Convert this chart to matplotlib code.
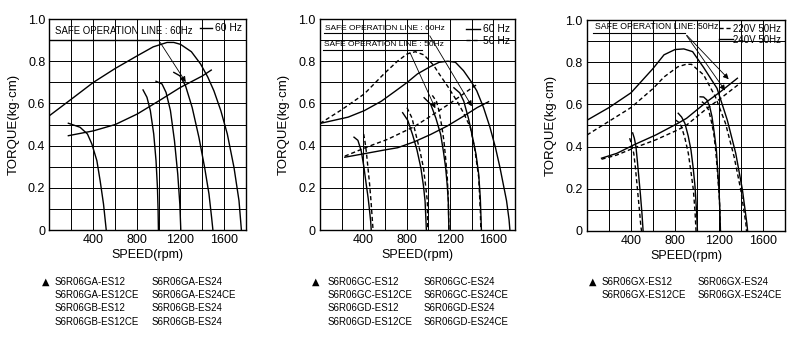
import numpy as np
import matplotlib
matplotlib.use('Agg')
import matplotlib.pyplot as plt

plt.rcParams['font.family'] = ['Liberation Sans', 'DejaVu Sans']

# ---- GA / GB series, 60 Hz ----
a_big_x = [0, 200, 403, 600, 805, 950, 1077, 1139, 1200, 1300, 1384, 1450, 1506, 1570, 1629, 1690, 1736, 1758]
a_big_y = [0.542, 0.62, 0.70, 0.765, 0.826, 0.868, 0.889, 0.889, 0.88, 0.845, 0.787, 0.725, 0.66, 0.565, 0.455, 0.297, 0.139, 0]
a_c1_x = [173, 280, 348, 388, 434, 464, 495, 520]
a_c1_y = [0.506, 0.487, 0.455, 0.408, 0.329, 0.234, 0.123, 0]
a_c2_x = [857, 893, 924, 955, 976, 989, 995, 998]
a_c2_y = [0.664, 0.629, 0.566, 0.455, 0.329, 0.202, 0.092, 0]
a_c3_x = [976, 1031, 1068, 1108, 1145, 1175, 1194, 1203]
a_c3_y = [0.705, 0.692, 0.652, 0.566, 0.423, 0.265, 0.123, 0]
a_c4_x = [1139, 1194, 1246, 1307, 1369, 1421, 1461, 1485, 1497]
a_c4_y = [0.747, 0.731, 0.684, 0.581, 0.439, 0.297, 0.171, 0.06, 0]
a_safe_x = [173, 403, 603, 805, 1005, 1200, 1400, 1482]
a_safe_y = [0.447, 0.47, 0.50, 0.55, 0.613, 0.676, 0.73, 0.758]

# ---- GC / GD series, 60 Hz and 50 Hz ----
c_big60_x = [0, 260, 410, 565, 700, 806, 900, 1020, 1100, 1180, 1250, 1325, 1400, 1447, 1510, 1569, 1620, 1661, 1722, 1745, 1753]
c_big60_y = [0.505, 0.535, 0.566, 0.61, 0.66, 0.70, 0.74, 0.775, 0.795, 0.80, 0.795, 0.755, 0.70, 0.66, 0.58, 0.487, 0.39, 0.297, 0.139, 0.05, 0]
c_big50_x = [0, 200, 409, 600, 715, 806, 880, 960, 1050, 1100, 1180, 1266, 1330, 1389, 1430, 1465, 1480, 1485]
c_big50_y = [0.505, 0.57, 0.645, 0.745, 0.80, 0.835, 0.845, 0.83, 0.78, 0.74, 0.68, 0.61, 0.55, 0.485, 0.38, 0.25, 0.09, 0]
c_s1_60_x = [314, 350, 381, 405, 427, 445, 458, 468, 473]
c_s1_60_y = [0.44, 0.425, 0.374, 0.30, 0.216, 0.15, 0.09, 0.04, 0]
c_s1_50_x = [403, 415, 427, 442, 458, 472, 483, 490]
c_s1_50_y = [0.455, 0.42, 0.374, 0.30, 0.217, 0.13, 0.05, 0]
c_s2_60_x = [763, 810, 854, 895, 931, 955, 970, 982]
c_s2_60_y = [0.556, 0.52, 0.453, 0.38, 0.295, 0.21, 0.137, 0]
c_s2_50_x = [803, 850, 885, 925, 955, 975, 991, 995]
c_s2_50_y = [0.58, 0.53, 0.453, 0.37, 0.295, 0.21, 0.137, 0]
c_s3_60_x = [961, 1022, 1070, 1114, 1140, 1160, 1175, 1184, 1190]
c_s3_60_y = [0.627, 0.596, 0.53, 0.453, 0.37, 0.295, 0.21, 0.137, 0]
c_s3_50_x = [1037, 1075, 1099, 1125, 1144, 1160, 1175, 1185, 1190]
c_s3_50_y = [0.638, 0.61, 0.564, 0.49, 0.422, 0.34, 0.248, 0.14, 0]
c_s4_60_x = [1236, 1290, 1327, 1370, 1403, 1440, 1465, 1480, 1490]
c_s4_60_y = [0.674, 0.65, 0.611, 0.53, 0.453, 0.36, 0.264, 0.15, 0]
c_safe60_x = [229, 412, 625, 717, 870, 1022, 1175, 1327, 1450, 1556]
c_safe60_y = [0.345, 0.362, 0.382, 0.39, 0.418, 0.453, 0.493, 0.54, 0.58, 0.608]
c_safe50_x = [229, 442, 625, 870, 1022, 1200, 1420, 1450]
c_safe50_y = [0.35, 0.395, 0.43, 0.49, 0.54, 0.60, 0.68, 0.69]

# ---- GX series, 50 Hz at 220 V / 240 V ----
x_big240_x = [0, 200, 400, 600, 700, 800, 880, 960, 1060, 1182, 1275, 1352, 1413, 1453, 1460]
x_big240_y = [0.525, 0.585, 0.655, 0.77, 0.835, 0.86, 0.863, 0.85, 0.775, 0.676, 0.526, 0.368, 0.194, 0.036, 0]
x_big220_x = [0, 200, 400, 600, 700, 825, 900, 950, 1060, 1167, 1259, 1337, 1398, 1444, 1450]
x_big220_y = [0.455, 0.52, 0.585, 0.675, 0.73, 0.778, 0.79, 0.79, 0.74, 0.636, 0.51, 0.352, 0.194, 0.036, 0]
x_a240_x = [415, 430, 445, 458, 472, 486, 500, 510]
x_a240_y = [0.465, 0.44, 0.40, 0.33, 0.25, 0.17, 0.08, 0]
x_a220_x = [388, 405, 425, 440, 462, 478, 490, 496]
x_a220_y = [0.44, 0.41, 0.368, 0.30, 0.179, 0.09, 0.02, 0]
x_b240_x = [829, 860, 890, 920, 945, 965, 982, 995, 1004]
x_b240_y = [0.558, 0.54, 0.51, 0.45, 0.384, 0.30, 0.21, 0.10, 0]
x_b220_x = [804, 835, 859, 890, 921, 945, 967, 982, 991]
x_b220_y = [0.526, 0.515, 0.494, 0.44, 0.368, 0.28, 0.194, 0.09, 0]
x_c240_x = [1028, 1060, 1090, 1115, 1136, 1158, 1176, 1198, 1208, 1213]
x_c240_y = [0.636, 0.635, 0.621, 0.59, 0.542, 0.46, 0.384, 0.21, 0.10, 0]
x_c220_x = [1044, 1075, 1106, 1130, 1152, 1170, 1182, 1204, 1213]
x_c220_y = [0.613, 0.60, 0.573, 0.52, 0.463, 0.38, 0.305, 0.147, 0]
x_safe240_x = [132, 271, 425, 625, 825, 905, 1090, 1213, 1367]
x_safe240_y = [0.345, 0.368, 0.408, 0.455, 0.51, 0.534, 0.613, 0.66, 0.724]
x_safe220_x = [132, 271, 425, 625, 825, 905, 1090, 1213, 1398]
x_safe220_y = [0.34, 0.36, 0.393, 0.432, 0.479, 0.502, 0.581, 0.628, 0.703]

# model lists under each chart
models_a_left = ['S6R06GA-ES12', 'S6R06GA-ES12CE', 'S6R06GB-ES12', 'S6R06GB-ES12CE']
models_a_right = ['S6R06GA-ES24', 'S6R06GA-ES24CE', 'S6R06GB-ES24', 'S6R06GB-ES24']
models_c_left = ['S6R06GC-ES12', 'S6R06GC-ES12CE', 'S6R06GD-ES12', 'S6R06GD-ES12CE']
models_c_right = ['S6R06GC-ES24', 'S6R06GC-ES24CE', 'S6R06GD-ES24', 'S6R06GD-ES24CE']
models_x_left = ['S6R06GX-ES12', 'S6R06GX-ES12CE']
models_x_right = ['S6R06GX-ES24', 'S6R06GX-ES24CE']

LW = 1.0
DASH = (0, (3, 2))


def setup(ax):
    ax.set_xlim(0, 1800)
    ax.set_ylim(0, 1.0)
    ax.set_xticks([400, 800, 1200, 1600])
    ax.set_xticks(np.arange(0, 1801, 200), minor=True)
    ax.set_yticks([0, 0.2, 0.4, 0.6, 0.8, 1.0])
    ax.set_yticklabels(['0', '0.2', '0.4', '0.6', '0.8', '1.0'])
    ax.set_yticks(np.arange(0, 1.01, 0.1), minor=True)
    ax.grid(which='both', color='k', lw=0.7)
    ax.set_axisbelow(True)
    ax.tick_params(which='both', length=0, labelsize=9, pad=3)
    for s in ax.spines.values():
        s.set_linewidth(1.0)
    ax.set_xlabel('SPEED(rpm)', fontsize=9, labelpad=2)
    ax.set_ylabel('TORQUE(kg·cm)', fontsize=9.5, labelpad=6)


def leader(ax, start, tip):
    ax.annotate('', xy=tip, xytext=start,
                arrowprops=dict(arrowstyle='-|>', lw=0.6, color='k', mutation_scale=8))


def model_list(x_tri, x1, x2, left, right):
    rows = [0.168, 0.130, 0.091, 0.050]
    fig.text(x_tri, rows[0], '▲', fontsize=7, ha='center', va='center',
             family=['DejaVu Sans'])
    for r, t in zip(rows, left):
        fig.text(x1, r, t, fontsize=7, va='center')
    for r, t in zip(rows, right):
        fig.text(x2, r, t, fontsize=7, va='center')


fig = plt.figure(figsize=(7.94, 3.39), dpi=100)

# 1) GA / GB
ax1 = fig.add_axes([0.0623, 0.3215, 0.2475, 0.6224])
setup(ax1)
ax1.plot(a_big_x, a_big_y, 'k-', lw=LW, label='60 Hz')
for xs, ys in [(a_c1_x, a_c1_y), (a_c2_x, a_c2_y), (a_c3_x, a_c3_y), (a_c4_x, a_c4_y), (a_safe_x, a_safe_y)]:
    ax1.plot(xs, ys, 'k-', lw=LW)
ax1.text(55, 0.943, 'SAFE OPERATION LINE : 60Hz', fontsize=6.9, va='center')
ax1.plot([0, 1000], [0.9, 0.9], 'k-', lw=1.0)
leader(ax1, (1000, 0.9), (1262, 0.69))
ax1.legend(loc='upper right', frameon=False, fontsize=7.5, handlelength=1.1,
           handletextpad=0.3, borderaxespad=0.1, borderpad=0.3)

# 2) GC / GD
ax2 = fig.add_axes([0.403, 0.3215, 0.2456, 0.6224])
setup(ax2)
l60, = ax2.plot(c_big60_x, c_big60_y, 'k-', lw=LW, label='60 Hz')
l50, = ax2.plot(c_big50_x, c_big50_y, 'k', ls=DASH, lw=LW, label='50 Hz')
for xs, ys in [(c_s1_60_x, c_s1_60_y), (c_s2_60_x, c_s2_60_y), (c_s3_60_x, c_s3_60_y),
               (c_s4_60_x, c_s4_60_y), (c_safe60_x, c_safe60_y)]:
    ax2.plot(xs, ys, 'k-', lw=LW)
for xs, ys in [(c_s1_50_x, c_s1_50_y), (c_s2_50_x, c_s2_50_y), (c_s3_50_x, c_s3_50_y),
               (c_safe50_x, c_safe50_y)]:
    ax2.plot(xs, ys, 'k', ls=DASH, lw=LW)
ax2.text(50, 0.955, 'SAFE OPERATION LINE : 60Hz', fontsize=6, va='center')
ax2.plot([40, 1000], [0.932, 0.932], 'k-', lw=0.8)
ax2.text(40, 0.878, 'SAFE OPERATION LINE : 50Hz', fontsize=6, va='center')
ax2.plot([30, 940], [0.853, 0.853], 'k-', lw=0.8)
leader(ax2, (1000, 0.932), (1415, 0.575))
leader(ax2, (820, 0.853), (1075, 0.565))
ax2.legend(handles=[l60, l50], loc='upper right', frameon=False, fontsize=7.5,
           handlelength=1.3, handletextpad=0.3, borderaxespad=0.1, borderpad=0.4,
           labelspacing=0.15)

# 3) GX
ax3 = fig.add_axes([0.7393, 0.3186, 0.2494, 0.6224])
setup(ax3)
l240, = ax3.plot(x_big240_x, x_big240_y, 'k-', lw=LW, label='240V 50Hz')
l220, = ax3.plot(x_big220_x, x_big220_y, 'k', ls=DASH, lw=LW, label='220V 50Hz')
for xs, ys in [(x_a240_x, x_a240_y), (x_b240_x, x_b240_y), (x_c240_x, x_c240_y), (x_safe240_x, x_safe240_y)]:
    ax3.plot(xs, ys, 'k-', lw=LW)
for xs, ys in [(x_a220_x, x_a220_y), (x_b220_x, x_b220_y), (x_c220_x, x_c220_y), (x_safe220_x, x_safe220_y)]:
    ax3.plot(xs, ys, 'k', ls=DASH, lw=LW)
ax3.text(70, 0.968, 'SAFE OPERATION LINE: 50Hz', fontsize=6.3, va='center')
ax3.plot([55, 890], [0.937, 0.937], 'k-', lw=0.8)
leader(ax3, (890, 0.937), (1305, 0.71))
leader(ax3, (890, 0.937), (1270, 0.655))
ax3.legend(handles=[l220, l240], loc='upper right', frameon=False, fontsize=7,
           handlelength=1.4, handletextpad=0.05, borderaxespad=0.1, borderpad=0.3,
           labelspacing=0.1)

# model numbers
model_list(0.058, 0.069, 0.191, models_a_left, models_a_right)
model_list(0.398, 0.412, 0.533, models_c_left, models_c_right)
model_list(0.746, 0.758, 0.879, models_x_left, models_x_right)

fig.savefig('out.png', dpi=100)
